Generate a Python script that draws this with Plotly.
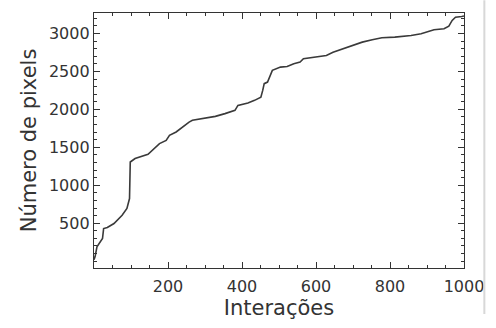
import plotly.graph_objects as go

# Data
iteracoes = [0, 3, 8, 18, 23, 26, 36, 54, 76, 89, 96, 98, 111, 146, 164, 177, 195,
             204, 222, 239, 257, 266, 301, 328, 354, 381, 389, 416, 434, 451, 456,
             460, 469, 482, 504, 522, 540, 557, 566, 601, 628, 646, 672, 698, 725,
             752, 778, 813, 840, 857, 884, 901, 919, 946, 959, 968, 977, 994, 1000]
pixels = [20, 60, 190, 254, 299, 430, 443, 496, 605, 694, 825, 1307, 1352, 1408, 1483, 1549, 1592,
          1658, 1702, 1767, 1833, 1856, 1886, 1908, 1944, 1987, 2053, 2083, 2119, 2162, 2250,
          2339, 2360, 2514, 2557, 2566, 2602, 2623, 2668, 2689, 2711, 2754, 2799, 2843, 2886,
          2918, 2944, 2952, 2965, 2974, 2997, 3027, 3049, 3062, 3097, 3172, 3215, 3224, 3230]

x_ticks = [200, 400, 600, 800, 1000]
y_ticks = [500, 1000, 1500, 2000, 2500, 3000]

FONT = "DejaVu Sans"
INK = "#333333"

fig = go.Figure()
fig.add_trace(go.Scatter(x=iteracoes, y=pixels, mode="lines",
                         line=dict(color="#3a3a3a", width=1.6),
                         showlegend=False, hoverinfo="skip"))

axis_common = dict(
    showgrid=False, zeroline=False, showline=True, linecolor=INK, linewidth=1.3,
    mirror="ticks", ticks="inside", ticklen=6, tickwidth=1, tickcolor=INK,
    tickfont=dict(family=FONT, size=16, color=INK),
    title_font=dict(family=FONT, size=21, color=INK),
)

fig.update_xaxes(range=[0, 1000], tickvals=x_ticks, ticktext=[str(v) for v in x_ticks],
                 minor=dict(ticks="inside", ticklen=3, dtick=50, tickcolor=INK),
                 ticklabelstandoff=4,
                 title_text="Interações", title_standoff=4, **axis_common)
fig.update_yaxes(range=[-90, 3270], tickvals=y_ticks, ticktext=[str(v) for v in y_ticks],
                 minor=dict(ticks="inside", ticklen=3, dtick=100, tickcolor=INK),
                 title_text="Número de pixels", title_standoff=6, **axis_common)

fig.add_shape(type="line", xref="paper", yref="paper", x0=1.055, x1=1.055, y0=-0.18, y1=1.05,
              line=dict(color="#d8d8d8", width=2))

fig.update_layout(width=496, height=328, margin=dict(l=94, r=25, t=13, b=60),
                  paper_bgcolor="white", plot_bgcolor="white")

fig.write_html("out.html")
